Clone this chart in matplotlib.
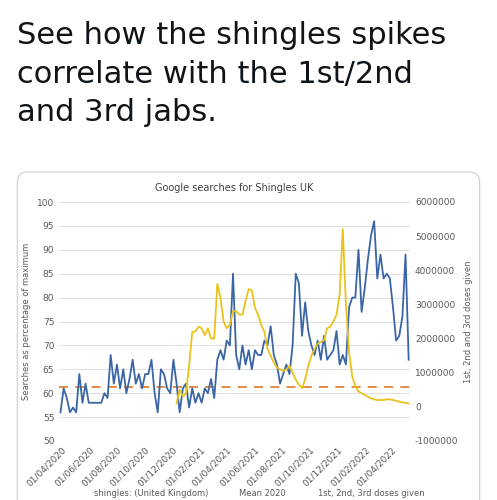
import numpy as np
import pandas as pd
import matplotlib
matplotlib.use('Agg')
import matplotlib.pyplot as plt
import matplotlib.dates as mdates
from matplotlib.patches import FancyBboxPatch

searches = [56, 61, 59, 56, 57, 56, 64, 58, 62, 58, 58, 58, 58,
            58, 60, 59, 68, 62, 66, 61, 65, 60, 63, 67, 62, 64,
            61, 64, 64, 67, 60, 56, 65, 64, 61, 60, 67, 62, 56,
            61, 62, 57, 61, 58, 60, 58, 61, 60, 63, 59, 67, 69, 67, 71, 70, 85, 68, 65, 70,
            66, 69, 65, 69, 68, 68, 71, 70, 74, 68, 66, 62, 64, 66, 64, 70, 85, 83, 72, 79,
            73, 70, 68, 71, 67, 72, 67, 68, 69, 73, 66, 68, 66, 78, 80, 80, 90, 77, 82, 88,
            93, 96, 84, 89, 84, 85, 84, 78, 71, 72, 76, 89, 67]
doses = [0.1, 0.5, 0.3, 0.4, 1.2, 2.2, 2.2, 2.35, 2.3, 2.1, 2.3, 2.0, 2.0,
         3.6, 3.2, 2.5, 2.3, 2.4, 2.8, 2.8, 2.7, 2.7, 3.1, 3.45, 3.4, 2.9, 2.7, 2.4, 2.2,
         1.7, 1.5, 1.3, 1.15, 1.1, 1.05, 1.1, 1.2, 1.0, 0.8, 0.65,
         0.55, 0.8, 1.2, 1.5, 1.7, 1.85, 1.9, 1.95, 2.3, 2.35, 2.5, 2.7, 3.3,
         5.2, 3.0, 1.6, 0.9, 0.6, 0.45, 0.4, 0.35, 0.3, 0.25, 0.22, 0.2, 0.2, 0.2,
         0.22, 0.22, 0.2, 0.18, 0.15, 0.13, 0.12, 0.1]  # millions
mean_2020 = 61.4
dose_start = len(searches) - len(doses)

dates = pd.date_range("2020-03-29", "2022-05-08", periods=len(searches))
tick_dates = pd.date_range("2020-04-01", "2022-04-01", freq="2MS")

BLUE = "#3b66a6"
YELLOW = "#e9c21c"
ORANGE = "#e0823a"
GREY = "#595959"

fig = plt.figure(figsize=(4.97, 5.0), dpi=100)
fig.text(0.035, 0.958, "See how the shingles spikes\ncorrelate with the 1st/2nd\nand 3rd jabs.",
         fontsize=22, ha="left", va="top", linespacing=1.42, color="#0f1419")

card = FancyBboxPatch((0.035, -0.05), 0.93, 0.706, boxstyle="round,pad=0,rounding_size=0.02",
                      transform=fig.transFigure, facecolor="white", edgecolor="#d6d6d6",
                      lw=1, zorder=-5)
fig.patches.append(card)

ax = fig.add_axes([0.119, 0.118, 0.706, 0.478])
ax2 = ax.twinx()
ax.patch.set_visible(False)
ax2.patch.set_visible(False)

for y in range(50, 101, 5):
    ax.axhline(y, color="#d9d9d9", lw=0.6, zorder=0)
ax.plot(dates, searches, color=BLUE, lw=1.3, zorder=3)
ax.axhline(mean_2020, color=ORANGE, lw=1.3, ls=(0, (5, 4)), zorder=2)
ax2.plot(dates[dose_start:], np.array(doses) * 1e6, color=YELLOW, lw=1.3)

ax.set_ylim(50, 100)
ax.set_yticks(range(50, 101, 5))
ax2.set_ylim(-1e6, 6e6)
ax2.set_yticks(np.arange(-1e6, 6.1e6, 1e6))
ax2.set_yticklabels([f"{int(v)}" for v in np.arange(-1e6, 6.1e6, 1e6)])
ax.set_xlim(dates[0] - pd.Timedelta(days=3), dates[-1] + pd.Timedelta(days=3))
ax.set_xticks(tick_dates)
ax.xaxis.set_major_formatter(mdates.DateFormatter("%d/%m/%Y"))
plt.setp(ax.get_xticklabels(), rotation=45, ha="right", rotation_mode="anchor")

for a in (ax, ax2):
    for s in a.spines.values():
        s.set_visible(False)
    a.tick_params(length=0, labelsize=6.5, colors=GREY)
ax.tick_params(axis="x", labelsize=6.5, pad=3)

ax.set_ylabel("Searches as percentage of maximum", fontsize=6, color=GREY)
ax2.set_ylabel("1st, 2nd and 3rd doses given", fontsize=6, color=GREY)
ax.set_title("Google searches for Shingles UK", fontsize=7, color="#404040", pad=8)

fig.text(0.19, 0.004, "shingles: (United Kingdom)", fontsize=6, color=GREY, va="bottom")
fig.text(0.48, 0.004, "Mean 2020", fontsize=6, color=GREY, va="bottom")
fig.text(0.64, 0.004, "1st, 2nd, 3rd doses given", fontsize=6, color=GREY, va="bottom")

fig.savefig("out.png", dpi=100)
